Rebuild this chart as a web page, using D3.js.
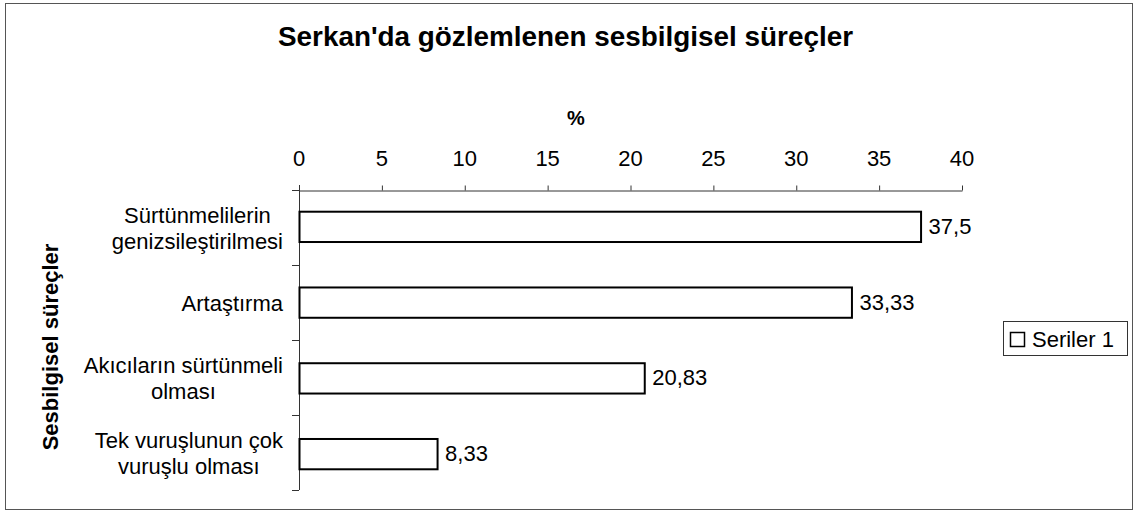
<!DOCTYPE html>
<html><head><meta charset="utf-8">
<script src="https://cdn.jsdelivr.net/npm/d3@7"></script>
<style>body{margin:0;background:#fff}svg{display:block}text{font-family:"Liberation Sans",Arial,sans-serif;fill:#000}</style>
</head><body><svg id="c" width="1135" height="512"></svg>
<script>
const categories = [["Sürtünmelilerin","genizsileştirilmesi"],["Artaştırma"],["Akıcıların sürtünmeli","olması"],["Tek vuruşlunun çok","vuruşlu olması"]];
const values = [37.5, 33.33, 20.83, 8.33];
const valueLabels = ["37,5","33,33","20,83","8,33"];
const xTicks = [0,5,10,15,20,25,30,35,40];
const title = "Serkan'da gözlemlenen sesbilgisel süreçler";
const xTitle = "%";
const yTitle = "Sesbilgisel süreçler";
const seriesName = "Seriler 1";

const svg = d3.select("#c");
svg.append("rect").attr("x",5.5).attr("y",3.5).attr("width",1127).attr("height",506).attr("fill","none").attr("stroke","#555").attr("stroke-width",1);

const x = d3.scaleLinear().domain([0,40]).range([299,962]);
const y = d3.scaleBand().domain(d3.range(categories.length)).range([190,490]).paddingInner(0.6).paddingOuter(0.28);
const yb = d3.scaleBand().domain(d3.range(categories.length)).range([190,490]);

svg.append("text").attr("x",278).attr("y",46).style("font-weight","bold").style("font-size","27px")
  .attr("textLength",575).attr("lengthAdjust","spacingAndGlyphs").text(title);
svg.append("text").attr("x",576).attr("y",125).attr("text-anchor","middle").style("font-weight","bold").style("font-size","20px").text(xTitle);

const xa = svg.append("g").attr("transform","translate(0,190.5)")
  .call(d3.axisTop(x).tickValues(xTicks).tickSize(5).tickSizeOuter(0).tickFormat(""));
xa.select(".domain").attr("stroke","#333");
xa.selectAll(".tick line").attr("stroke","#333");
svg.append("line").attr("x1",292).attr("x2",299).attr("y1",190.5).attr("y2",190.5).attr("stroke","#333");
svg.selectAll(".xl").data(xTicks).join("text").attr("class","xl")
  .attr("x",d=>x(d)).attr("y",166).attr("text-anchor","middle").style("font-size","22px").text(d=>d);

svg.append("line").attr("x1",299.5).attr("x2",299.5).attr("y1",185).attr("y2",490).attr("stroke","#333");
const bounds = d3.range(categories.length).map(i=>yb(i)+yb.bandwidth());
svg.selectAll(".yt").data(bounds).join("line").attr("class","yt")
  .attr("x1",292).attr("x2",299).attr("y1",d=>d+0.5).attr("y2",d=>d+0.5).attr("stroke","#333");

svg.selectAll(".bar").data(values).join("rect").attr("class","bar")
  .attr("x",x(0)+0.5).attr("y",(d,i)=>y(i)+0.5)
  .attr("width",d=>x(d)-x(0)).attr("height",y.bandwidth())
  .attr("fill","#fff").attr("stroke","#000").attr("stroke-width",2);

svg.selectAll(".vl").data(values).join("text").attr("class","vl")
  .attr("x",d=>x(d)+8).attr("y",(d,i)=>y(i)+y.bandwidth()/2+7.5)
  .style("font-size","22px").text((d,i)=>valueLabels[i]);

const cl = svg.selectAll(".cl").data(categories).join("text").attr("class","cl")
  .attr("text-anchor","middle").style("font-size","22px");
cl.each(function(lines,i){
  const cy = yb(i)+yb.bandwidth()/2;
  const n = lines.length;
  const t = d3.select(this);
  t.selectAll("tspan").data(lines).join("tspan")
    .attr("y",(l,j)=>cy+8+(j-(n-1)/2)*26).text(l=>l);
  let maxW = 0;
  t.selectAll("tspan").each(function(){ maxW = Math.max(maxW, this.getComputedTextLength()); });
  t.selectAll("tspan").attr("x", 283 - maxW/2);
});

svg.append("text").attr("transform","translate(58,347) rotate(-90)").attr("text-anchor","middle")
  .style("font-weight","bold").style("font-size","22px").text(yTitle);

const lg = svg.append("g");
lg.append("rect").attr("x",1003.5).attr("y",321.5).attr("width",124).attr("height",34).attr("fill","#fff").attr("stroke","#333");
lg.append("rect").attr("x",1010.5).attr("y",332.5).attr("width",14).attr("height",14).attr("fill","#fff").attr("stroke","#000").attr("stroke-width",1.5);
lg.append("text").attr("x",1032).attr("y",347).style("font-size","22px").text(seriesName);
</script></body></html>
